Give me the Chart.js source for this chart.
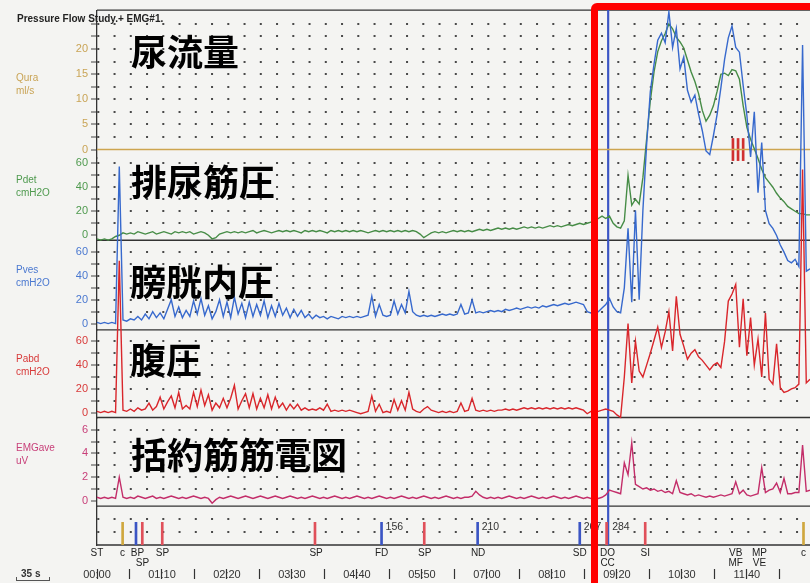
<!DOCTYPE html>
<html>
<head>
<meta charset="utf-8">
<script src="https://cdn.jsdelivr.net/npm/chart.js@4.4.1/dist/chart.umd.min.js"></script>
<style>
  html, body { margin: 0; padding: 0; background: #f4f4f2; overflow: hidden; }
  #wrap { position: relative; width: 810px; height: 583px; }
  #wrap canvas { position: absolute; left: 0; top: 0; }
  .t { position: absolute; font-family: "Liberation Sans", Arial, sans-serif; font-size: 10px; line-height: 13px; white-space: nowrap; }
  .big { position: absolute; font-family: "Noto Sans CJK JP", sans-serif; font-weight: 700; font-size: 36px; line-height: 36px; color: #000; white-space: nowrap; }
  #title { left: 17px; top: 12px; font-weight: 700; color: #222; }
  #scale { left: 21px; top: 567px; font-weight: 700; color: #333; }
  #bracket { position: absolute; left: 16px; top: 577px; width: 32px; height: 3px; border: 1px solid #555; border-top: none; }
  #redbox { position: absolute; left: 591px; top: 3px; width: 300px; height: 700px; border: 7px solid #ff0000; border-radius: 6px; }
</style>
</head>
<body>
<div id="wrap">
  <canvas id="myChart"></canvas>
  <div class="t" id="title">Pressure Flow Study.+ EMG#1.</div>
  <div class="t" style="left:16px;top:71px;color:#c9a456">Qura<br>ml/s</div>
  <div class="t" style="left:16px;top:173px;color:#4f9a4f">Pdet<br>cmH2O</div>
  <div class="t" style="left:16px;top:263px;color:#4a78d0">Pves<br>cmH2O</div>
  <div class="t" style="left:16px;top:352px;color:#d83a3a">Pabd<br>cmH2O</div>
  <div class="t" style="left:16px;top:441px;color:#c8407a">EMGave<br>uV</div>
  <div class="big" style="left:131px;top:32px">尿流量</div>
  <div class="big" style="left:131px;top:162px">排尿筋圧</div>
  <div class="big" style="left:130px;top:262px">膀胱内圧</div>
  <div class="big" style="left:130px;top:340px">腹圧</div>
  <div class="big" style="left:131px;top:435px">括約筋筋電図</div>
  <div class="t" id="scale">35 s</div>
  <div id="bracket"></div>
  <div id="redbox"></div>
</div>
<script>
// muestreo cada 4 s (0 .. 768 s)
const sampleStep = 4;

const pdet = [
  -3, -4, -3, -4, -3, -1, 0, 2, 1, 2,
  1, 3, 2, 1, 2, 3, 1, 2, 3, 2,
  1, 3, 2, 3, 2, 3, 1, 2, 3, 2,
  0, -3, -2, 1, 2, 3, 2, 3, 2, 3,
  2, 3, 4, 2, 3, 4, 3, 2, 3, 4,
  3, 4, 3, 4, 3, 2, 4, 3, 4, 3,
  4, 3, 2, 4, 3, 4, 3, 4, 3, 4,
  3, 4, 3, 2, 3, 4, 3, 4, 3, 4,
  3, 4, 3, 4, 3, 4, 3, 1, -2, 0,
  2, 3, 2, 3, 2, 3, 4, 3, 4, 3,
  4, 3, 4, 5, 4, 5, 4, 5, 6, 5,
  6, 5, 6, 5, 6, 7, 6, 7, 6, 7,
  6, 7, 8, 7, 8, 7, 8, 9, 8, 9,
  10, 9, 10, 11, 12, 14, 16, 14, 16, 10,
  7, 6, 12, 50, 25, 30, 26, 48, 80, 112,
  136, 153, 162, 168, 176, 172, 165, 161, 156, 146,
  136, 128, 118, 104, 95, 100, 108, 120, 134, 135,
  133, 138, 137, 130, 108, 90, 80, 72, 64, 55,
  48, 44, 40, 35, 31, 28, 24, 22, 20, 18,
  18, 17, 17
];

const pves = [
  1, 0, 1, 0, 1, 0, 132, 3, 2, 4,
  3, 6, 3, 8, 4, 10, 5, 9, 4, 12,
  20, 6, 14, 5, 11, 6, 19, 8, 21, 7,
  15, 4, 10, 20, 6, 18, 5, 22, 8, 17,
  5, 18, 6, 16, 7, 19, 5, 15, 6, 17,
  7, 13, 5, 12, 6, 11, 5, 8, 4, 7,
  5, 6, 4, 6, 5, 4, 6, 5, 6, 5,
  6, 5, 6, 7, 23, 6, 16, 7, 6, 7,
  19, 8, 16, 9, 27, 10, 7, 6, 7, 6,
  7, 6, 7, 8, 7, 8, 7, 8, 16, 8,
  9, 20, 9, 10, 9, 10, 11, 10, 11, 10,
  12, 11, 12, 13, 12, 13, 14, 13, 14, 13,
  15, 14, 15, 16, 15, 16, 17, 16, 17, 18,
  17, 16, 10, 9, 11, 10, 13, 16, 21, 14,
  10, 9, 30, 80, 18, 95, 20, 95, 150, 195,
  218, 238, 244, 236, 262, 232, 248, 214, 224, 196,
  186, 192, 176, 162, 145, 142, 158, 176, 198, 222,
  240, 250, 232, 228, 200, 175, 140, 178, 110, 152,
  95, 84, 80, 74, 66, 60, 53, 51, 54, 48,
  234, 44, 46
];

const pabd = [
  1, 0, 1, 0, 1, 0, 128, 2, 1, 3,
  1, 4, 2, 3, 8, 2, 5, 13, 3, 9,
  14, 4, 17, 3, 6, 3, 17, 5, 19, 6,
  15, 2, 8, 4, 12, 4, 12, 23, 3, 10,
  16, 4, 16, 3, 12, 4, 15, 3, 13, 4,
  8, 2, 7, 3, 7, 2, 4, 2, 3, 2,
  4, 2, 7, 1, 2, 1, 2, 1, 2, 1,
  0, -1, 0, 1, 14, 1, 7, 0, 1, 0,
  11, 2, 10, 2, 17, 3, 1, 0, 3, 5,
  2, 1, 0, 1, 0, 1, 0, 1, 8, 1,
  2, 12, 2, 1, 2, 1, 2, 1, 2, 2,
  3, 2, 3, 2, 3, 4, 3, 4, 3, 4,
  3, 4, 3, 4, 3, 4, 3, 4, 3, 4,
  3, 2, -1, 1, 2, 1, 2, 3, 2, 1,
  -2, -4, 30, 75, 25, 60, 35, 30, 40, 50,
  61, 72, 55, 68, 85, 52, 98, 66, 56, 45,
  50, 53, 47, 44, 40, 36, 40, 42, 38, 60,
  94, 100, 108, 55, 96, 48, 80, 40, 62, 30,
  84, 28, 24, 58, 21, 17, 18, 20, 21, 24,
  205, 25, 28
];

const emg = [
  0.3, 0.2, 0.3, 0.2, 0.3, 0.2, 2.0, 0.3, 0.2, 0.3,
  0.2, 0.4, 0.3, 0.2, 0.3, 0.4, 0.2, 0.3, 0.2, 0.3,
  0.4, 0.3, 0.2, 0.3, 0.2, 0.3, 0.4, 0.3, 0.2, 0.3,
  0.2, -0.2, 0.1, 0.3, 0.2, 0.3, 0.4, 0.3, 0.2, 0.3,
  0.4, 0.3, 0.2, 0.3, 0.4, 0.3, 0.2, 0.3, 0.4, 0.3,
  0.2, 0.3, 0.4, 0.3, 0.2, 0.3, 0.2, 0.3, 0.4, 0.3,
  0.2, 0.3, 0.2, 0.3, 0.4, 0.3, 0.2, 0.3, 0.2, 0.3,
  0.4, 0.3, 0.2, 0.3, 0.2, 0.3, 0.4, 0.3, 0.2, 0.3,
  0.2, 0.3, 0.4, 0.3, 0.2, 0.3, 0.2, 0.3, 0.4, 0.3,
  0.2, 0.3, 0.2, 0.3, 0.4, 0.3, 0.2, 0.3, 0.2, 0.3,
  0.3, 0.4, 0.8, 0.5, 0.3, 0.2, 0.3, 0.2, 0.3, 0.2,
  0.3, 0.4, 0.3, 0.2, 0.3, 0.2, 0.3, 0.4, 0.3, 0.2,
  0.3, 0.2, 0.3, 0.4, 0.3, 0.2, 0.3, 0.2, 0.3, 0.4,
  0.3, 0.2, 0.3, 0.2, 0.3, 0.2, 0.3, 0.5, 0.9, 0.8,
  0.7, 0.6, 3.2, 2.2, 4.9, 1.4, 1.2, 1.0, 1.1, 0.9,
  1.0, 0.8, 0.9, 0.7, 0.8, 0.6, 1.7, 0.7, 0.6, 0.5,
  0.6, 0.4, 0.5, 0.4, 0.3, 0.4, 0.3, 0.4, 0.5, 0.4,
  0.5, 0.6, 1.6, 0.6, 0.9, 0.5, 0.4, 0.5, 0.6, 2.8,
  0.7, 0.9, 1.0, 1.5, 0.7, 1.9, 0.6, 0.6, 0.7, 0.7,
  4.7, 0.8, 0.9
];

// flujo: no hay micción registrada, la línea queda en cero
const quraTimes = [0, 768];
const quraValues = [0, 0];
const quraMarkTimes = [685, 690.5, 696];

// marcas de eventos (s)
const evTimes = [27.6, 42, 48.8, 70.3, 234.8, 306.5, 352.5, 410, 520, 548.9, 590.5, 761];
const evColors = ["#cfa73e", "#3b55c4", "#e0505a", "#e0505a", "#e0505a", "#3b55c4",
  "#e0505a", "#3b55c4", "#3b55c4", "#e0505a", "#e0505a", "#cfa73e"];
const ccTime = 550.6;

const evLabelTimes = [0, 27.6, 43.5, 49, 70.5, 236, 306.5, 353, 410.5, 520, 550, 590.5, 688, 713.5, 761];
const evLabels = [["ST"], ["c"], ["BP"], ["", "SP"], ["SP"], ["SP"], ["FD"], ["SP"], ["ND"], ["SD"],
  ["DO", "CC"], ["SI"], ["VB", "MF"], ["MP", "VE"], ["c"]];

const volTimes = [306.5, 410, 520, 550.6];
const volLabels = ["156", "210", "267", "284"];

const timeTicks = [0, 35, 70, 105, 140, 175, 210, 245, 280, 315, 350, 385, 420, 455, 490, 525, 560, 595, 630, 665, 700, 735];
const timeLabels = ["00:00", "", "01:10", "", "02:20", "", "03:30", "", "04:40", "", "05:50", "",
  "07:00", "", "08:10", "", "09:20", "", "10:30", "", "11:40", ""];

const quraTicks = [0, 2.5, 5, 7.5, 10, 12.5, 15, 17.5, 20, 22.5, 25];
const quraLabels = [0, 5, 10, 15, 20];
const presTicks = [0, 10, 20, 30, 40, 50, 60];
const presLabels = [0, 20, 40, 60];
const emgTicks = [0, 1, 2, 3, 4, 5, 6];
const emgLabels = [0, 2, 4, 6];

const fuente = '"Liberation Sans", Arial, sans-serif';

function puntos(valores) {
  return valores.map((v, i) => ({ x: i * sampleStep, y: v }));
}

function ejeY(min, max, peso, ticks, etiquetas, color) {
  return {
    type: "linear", axis: "y", position: "left", stack: "canales", stackWeight: peso,
    min, max,
    afterBuildTicks: (s) => { s.ticks = ticks.map((v) => ({ value: v })); },
    afterFit: (s) => { s.width = 97; },
    ticks: {
      color, padding: 3, autoSkip: false, font: { family: fuente, size: 11 },
      callback: (v) => (etiquetas.includes(v) ? String(v) : "")
    },
    grid: {
      color: (ctx) => (ctx.tick && ctx.tick.value === 0 ? "rgba(0,0,0,0)" : "#4a4a4a"),
      lineWidth: 2, tickLength: 6, tickColor: "#444", tickWidth: 1
    },
    border: { display: true, color: "#333", width: 1.3, dash: [2, 14.25] }
  };
}

const lineasPanel = {
  id: "lineasPanel",
  beforeDatasetsDraw(chart) {
    const { ctx, chartArea, scales } = chart;
    const ys = [chartArea.top, scales.pdet.bottom, scales.pves.bottom, scales.pabd.bottom, scales.emg.bottom, chartArea.bottom];
    ctx.save();
    ctx.strokeStyle = "#333";
    ctx.lineWidth = 1.3;
    ys.forEach((y) => {
      ctx.beginPath();
      ctx.moveTo(chartArea.left, y);
      ctx.lineTo(chartArea.right, y);
      ctx.stroke();
    });
    ctx.restore();
  },
  afterDatasetsDraw(chart) {
    const { ctx, scales } = chart;
    ctx.save();
    ctx.font = "10.5px " + fuente;
    ctx.fillStyle = "#333";
    ctx.textBaseline = "middle";
    volTimes.forEach((t, i) => {
      ctx.fillText(volLabels[i], scales.x.getPixelForValue(t) + 4, scales.ev.getPixelForValue(1.4));
    });
    ctx.restore();
  }
};

// clip desactivado: las curvas salen de su canal como en el registro original
const linea = { type: "line", xAxisID: "x", borderWidth: 1.4, pointRadius: 0, tension: 0, fill: false, clip: false };

const config = {
  type: "line",
  data: {
    datasets: [
      { ...linea, data: puntos(pabd), yAxisID: "pabd", borderColor: "#d9262b" },
      { ...linea, data: puntos(pves), yAxisID: "pves", borderColor: "#3769cd" },
      { ...linea, data: puntos(pdet), yAxisID: "pdet", borderColor: "#468c46" },
      { ...linea, data: puntos(emg), yAxisID: "emg", borderColor: "#c32d69" },
      { ...linea, data: quraTimes.map((t, i) => ({ x: t, y: quraValues[i] })), yAxisID: "qura", borderColor: "#cda550" },
      {
        type: "bar", xAxisID: "x", yAxisID: "qura", grouped: false, barThickness: 2, clip: false,
        data: quraMarkTimes.map((t) => ({ x: t, y: [-2.2, 2.2] })), backgroundColor: "#d03030"
      },
      {
        type: "bar", xAxisID: "x", yAxisID: "ev", grouped: false, barThickness: 2,
        data: evTimes.map((t) => ({ x: t, y: [0, 1.75] })), backgroundColor: evColors
      },
      {
        type: "bar", xAxisID: "x", yAxisID: "ev", grouped: false, barThickness: 1.5, clip: false,
        data: [{ x: ccTime, y: [0, 41.3] }], backgroundColor: "#3b55c4"
      }
    ]
  },
  options: {
    responsive: false,
    animation: false,
    layout: { padding: { top: 8, left: 0, right: 0, bottom: 0 } },
    plugins: { legend: { display: false }, tooltip: { enabled: false } },
    scales: {
      ev: {
        type: "linear", axis: "y", position: "left", stack: "canales", stackWeight: 39,
        min: 0, max: 3,
        afterBuildTicks: (s) => { s.ticks = [1, 2].map((v) => ({ value: v })); },
        afterFit: (s) => { s.width = 97; },
        ticks: { autoSkip: false, callback: () => "" },
        grid: { color: "#4a4a4a", lineWidth: 2, drawTicks: false },
        border: { display: true, color: "#333", width: 1.3, dash: [2, 14.25] }
      },
      emg: ejeY(-0.45, 7.03, 89, emgTicks, emgLabels, "#c8407a"),
      pabd: ejeY(-4.2, 69.7, 88, presTicks, presLabels, "#d83a3a"),
      pves: ejeY(-5.3, 70, 90, presTicks, presLabels, "#4a78d0"),
      pdet: ejeY(-4.15, 64.7, 83, presTicks, presLabels, "#4f9a4f"),
      qura: ejeY(-1.6, 27.7, 148, quraTicks, quraLabels, "#c9a456"),
      xe: {
        type: "linear", axis: "x", position: "bottom", weight: 0,
        min: 0, max: 768, offset: false,
        afterBuildTicks: (s) => { s.ticks = evLabelTimes.map((v) => ({ value: v })); },
        afterFit: (s) => { s.height = 24; },
        grid: { display: false, drawTicks: false, offset: false },
        border: { display: false },
        ticks: {
          autoSkip: false, maxRotation: 0, padding: 3, color: "#222",
          font: { family: fuente, size: 10, lineHeight: 1 },
          callback: (v, i) => evLabels[i]
        }
      },
      x: {
        type: "linear", axis: "x", position: "bottom", weight: 1,
        min: 0, max: 768, offset: false,
        afterBuildTicks: (s) => { s.ticks = timeTicks.map((v) => ({ value: v })); },
        afterFit: (s) => { s.height = 14; },
        grid: { drawOnChartArea: false, offset: false, tickLength: 10, tickColor: "#333", tickWidth: 1.2 },
        border: { display: false },
        ticks: {
          autoSkip: false, maxRotation: 0, padding: -11, color: "#333",
          font: { family: fuente, size: 11 },
          callback: (v, i) => timeLabels[i]
        }
      }
    }
  },
  plugins: [lineasPanel]
};

const canvas = document.getElementById("myChart");
canvas.width = 810;
canvas.height = 583;
new Chart(canvas, config);
</script>
</body>
</html>
